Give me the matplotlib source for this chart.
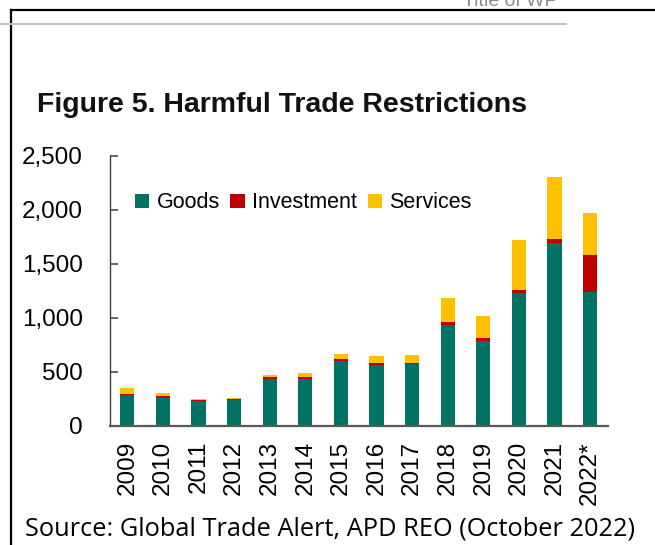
import numpy as np
import matplotlib
matplotlib.use("Agg")
import matplotlib.pyplot as plt
from matplotlib.lines import Line2D

# values (number of harmful interventions)
years = ['2009', '2010', '2011', '2012', '2013', '2014', '2015',
         '2016', '2017', '2018', '2019', '2020', '2021', '2022*']
goods = [285, 260, 230, 235, 432, 430, 596, 562, 570, 930, 787, 1225, 1690, 1240]
investment = [10, 12, 8, 12, 15, 25, 24, 21, 15, 30, 24, 31, 37, 340]
services = [51, 31, 12, 12, 22, 37, 43, 59, 69, 220, 205, 463, 573, 389]
yticks = [0, 500, 1000, 1500, 2000, 2500]

W, H = 655, 545
col_goods = '#007364'
col_inv = '#C00000'
col_serv = '#FFC000'

plt.rcParams['font.family'] = ['Liberation Sans', 'DejaVu Sans']

fig = plt.figure(figsize=(W / 100, H / 100), dpi=100)


def fx(x):
    return x / W


def fy(y):
    return 1 - y / H


# page decorations: border and header rule
fig.add_artist(Line2D([fx(11), fx(11)], [fy(10), fy(545)], color='black', lw=1.6,
                      transform=fig.transFigure))
fig.add_artist(Line2D([fx(11), fx(655)], [fy(10), fy(10)], color='black', lw=1.6,
                      transform=fig.transFigure))
fig.add_artist(Line2D([fx(0), fx(566)], [fy(23.5), fy(23.5)], color='#c0c0c0', lw=1.5,
                      transform=fig.transFigure))
fig.text(fx(463), fy(6), 'Title of WP', color='#8c8c8c', fontsize=14, va='baseline')

fig.text(fx(37), fy(111.5), 'Figure 5. Harmful Trade Restrictions', fontsize=20.5,
         fontweight='bold', va='baseline', color='#111111')
fig.text(fx(25), fy(535), 'Source: Global Trade Alert, APD REO (October 2022)',
         fontsize=18.3, va='baseline', family=['Open Sans', 'DejaVu Sans'])

ax = fig.add_axes([fx(109.5), fy(425.7), (608 - 109.5) / W, 270 / H])

x = np.arange(len(years))
goods = np.array(goods)
investment = np.array(investment)
services = np.array(services)
w = 0.4
ax.bar(x, goods, w, color=col_goods, label='Goods')
ax.bar(x, investment, w, bottom=goods, color=col_inv, label='Investment')
ax.bar(x, services, w, bottom=goods + investment, color=col_serv, label='Services')

ax.set_xlim(-0.5, len(years) - 0.5)
ax.set_ylim(0, 2500)
ax.set_yticks(yticks)
ax.set_yticklabels([f'{v:,}' for v in yticks])
ax.set_xticks(x)
ax.set_xticklabels(years, rotation=90)

ax.tick_params(axis='y', direction='in', length=6, width=1.3, color='#595959',
               labelsize=17.5, pad=19)
ax.tick_params(axis='x', length=0, labelsize=17.5, pad=11)

for s in ['top', 'right']:
    ax.spines[s].set_visible(False)
ax.spines['left'].set_color('#404040')
ax.spines['left'].set_linewidth(1.0)
ax.spines['bottom'].set_color('#595959')
ax.spines['bottom'].set_linewidth(1.6)

ax.legend(loc='center left', bbox_to_anchor=(0.051, 0.825), ncol=3, frameon=False,
          fontsize=15.5, borderpad=0, borderaxespad=0, handlelength=0.67,
          handleheight=0.67, handletextpad=0.33, columnspacing=0.5)

fig.savefig('out.png', dpi=100)
